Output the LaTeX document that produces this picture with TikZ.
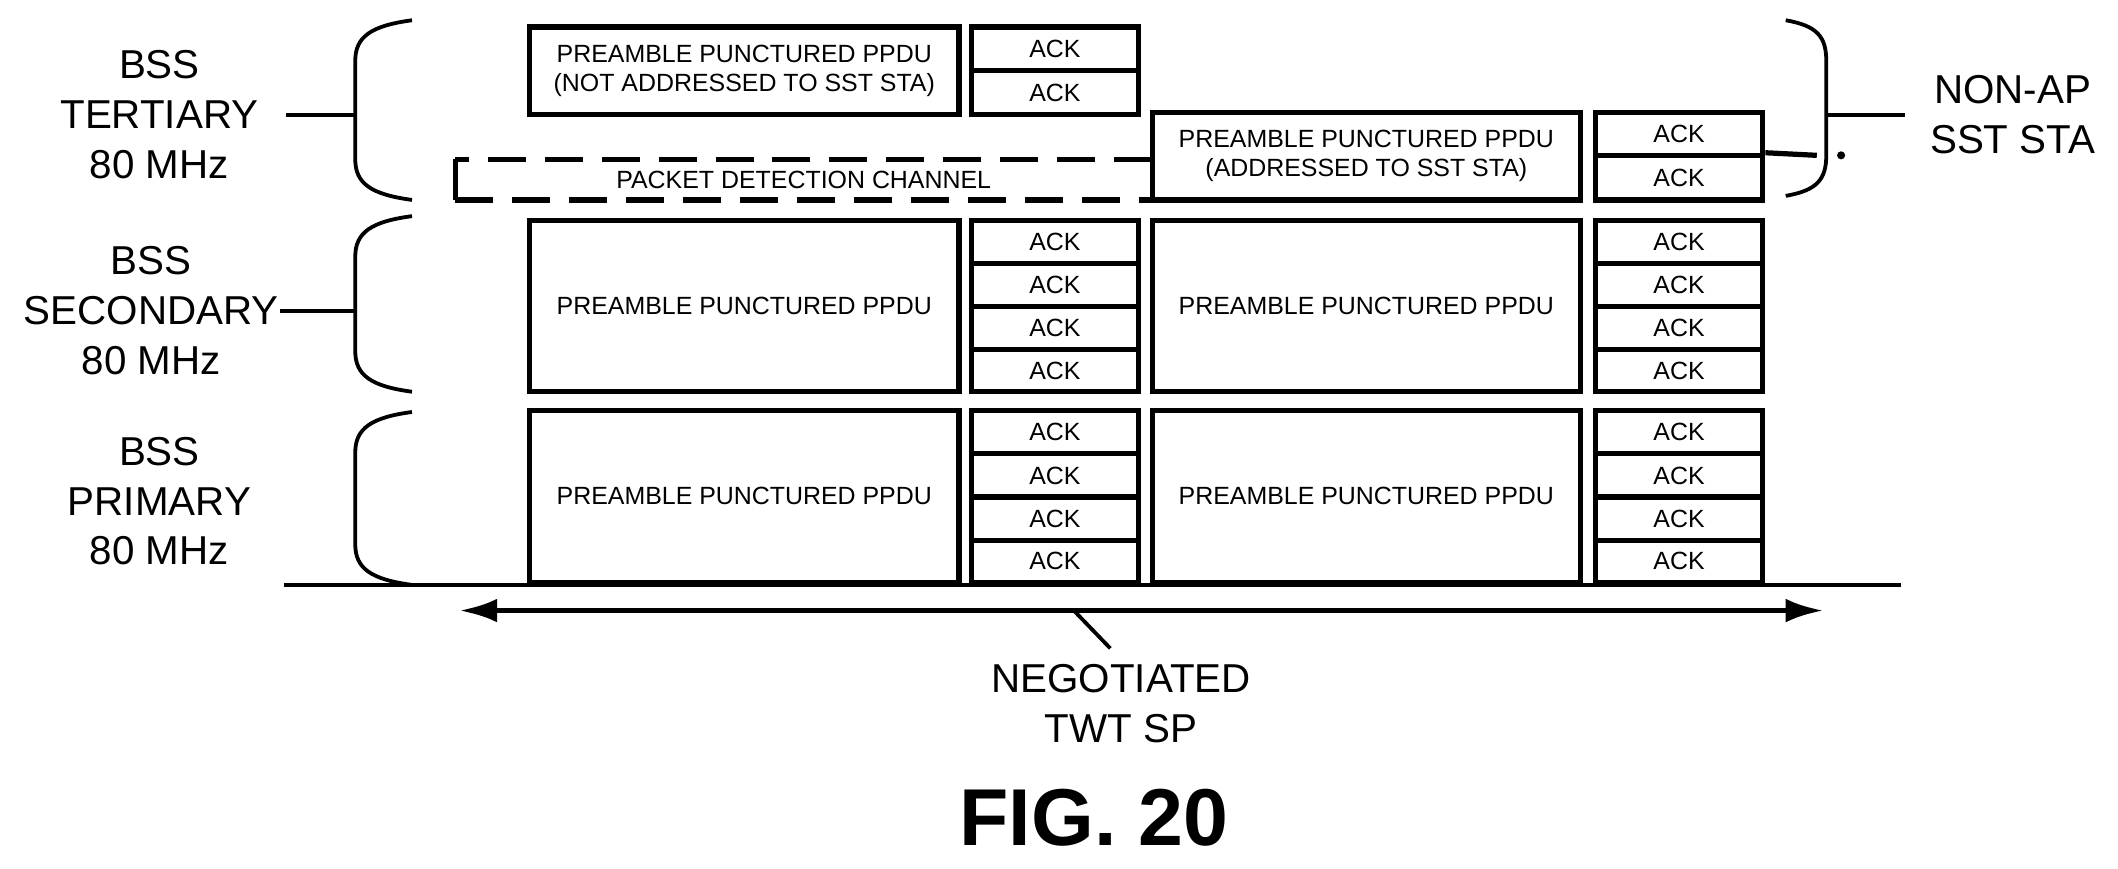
\documentclass[tikz,border=0pt]{standalone}
\usepackage{fontspec}
\setmainfont{Liberation Sans}
\usetikzlibrary{arrows.meta}
\begin{document}
\begin{tikzpicture}[x=0.02cm,y=-0.02cm,
  box/.style={draw,line width=2.2pt,inner sep=0pt,font=\fontsize{10.5}{12.5}\selectfont,align=center},
  lab/.style={font=\fontsize{17}{21}\selectfont,align=center},
  ln/.style={line width=1.6pt},
  brace/.style={line width=1.6pt}]
\useasboundingbox (0,0) rectangle (1568,643);
\newcommand{\mybx}[6]{\node[box,minimum width={(#4-#2)*0.02cm},minimum height={(#5-#3)*0.02cm}] (#1) at ({(#2+#4)/2},{(#3+#5)/2}) {#6};}
% tertiary
\mybx{t1}{392}{20}{710}{85}{PREAMBLE PUNCTURED PPDU\\(NOT ADDRESSED TO SST STA)}
\mybx{ta1}{719}{20}{843}{52}{ACK}
\mybx{ta2}{719}{52}{843}{85}{ACK}
\mybx{t2}{853}{83}{1170}{148}{PREAMBLE PUNCTURED PPDU\\(ADDRESSED TO SST STA)}
\mybx{tb1}{1181}{83}{1305}{115}{ACK}
\mybx{tb2}{1181}{115}{1305}{148}{ACK}
% secondary
\mybx{s1}{392}{163}{710}{290}{PREAMBLE PUNCTURED PPDU}
\mybx{s2}{853}{163}{1170}{290}{PREAMBLE PUNCTURED PPDU}
\mybx{sa1}{719}{163}{843}{195}{ACK}
\mybx{sa2}{719}{195}{843}{227}{ACK}
\mybx{sa3}{719}{227}{843}{259}{ACK}
\mybx{sa4}{719}{259}{843}{290}{ACK}
\mybx{sb1}{1181}{163}{1305}{195}{ACK}
\mybx{sb2}{1181}{195}{1305}{227}{ACK}
\mybx{sb3}{1181}{227}{1305}{259}{ACK}
\mybx{sb4}{1181}{259}{1305}{290}{ACK}
% primary
\mybx{p1}{392}{304}{710}{431}{PREAMBLE PUNCTURED PPDU}
\mybx{p2}{853}{304}{1170}{431}{PREAMBLE PUNCTURED PPDU}
\mybx{pa1}{719}{304}{843}{336}{ACK}
\mybx{pa2}{719}{336}{843}{368}{ACK}
\mybx{pa3}{719}{368}{843}{400}{ACK}
\mybx{pa4}{719}{400}{843}{431}{ACK}
\mybx{pb1}{1181}{304}{1305}{336}{ACK}
\mybx{pb2}{1181}{336}{1305}{368}{ACK}
\mybx{pb3}{1181}{368}{1305}{400}{ACK}
\mybx{pb4}{1181}{400}{1305}{431}{ACK}
% packet detection channel
\coordinate (pd1) at (853,118);
\coordinate (pd2) at (337,118);
\coordinate (pd3) at (337,148);
\coordinate (pd4) at (853,148);
\draw[line width=2.2pt,dash pattern=on 16pt off 8pt] (pd1) -- (pd2);
\draw[line width=2.2pt] (pd2) -- (pd3);
\draw[line width=2.2pt,dash pattern=on 16pt off 8pt] (pd3) -- (pd4);
\node[font=\fontsize{10.5}{12.5}\selectfont] (pdl) at (595,133) {PACKET DETECTION CHANNEL};
\coordinate (dd1) at (1345,115);
\draw[line width=2.2pt] (tb2.north east) -- (dd1);
\fill (1363,115) circle (3);
% baseline and arrow
\coordinate (b1) at (210,433); \coordinate (b2) at (1407,433);
\draw[ln] (b1) -- (b2);
\coordinate (a1) at (340,452); \coordinate (a2) at (1350,452);
\draw[line width=2.4pt,{Latex[length=16pt,width=10pt]}-{Latex[length=16pt,width=10pt]}] (a1) -- (a2);
\node[lab] (tw) at (830,521) {NEGOTIATED\\TWT SP};
\coordinate (am) at (795,452);
\draw[ln] (am) -- (822,480);
\node[font=\bfseries\fontsize{34}{40}\selectfont] (fig) at (810,605) {FIG. 20};
% left labels
\node[lab] (lt) at (118,85) {BSS\\TERTIARY\\80 MHz};
\node[lab] (ls) at (112,230) {BSS\\SECONDARY\\80 MHz};
\node[lab] (lp) at (118,371) {BSS\\PRIMARY\\80 MHz};
\newcommand{\mybrace}[2]{\draw[brace] (305,#1) .. controls (275,#1+4) and (263,#1+12) .. (263,#1+30) -- (263,#2-30) .. controls (263,#2-12) and (275,#2-4) .. (305,#2);}
\mybrace{15}{148}
\mybrace{160}{290}
\mybrace{305}{433}
\coordinate (bt) at (263,85); \coordinate (bs) at (263,230);
\draw[ln] (212,85) -- (bt);
\draw[ln] (207,230) -- (bs);
% right brace
\draw[brace] (1322,15) .. controls (1345,19) and (1352,27) .. (1352,45) -- (1352,115) .. controls (1352,133) and (1345,141) .. (1322,145);
\node[lab] (rt) at (1490,85) {NON-AP\\SST STA};
\coordinate (br) at (1352,85);
\draw[ln] (br) -- (1410,85);
\end{tikzpicture}
\end{document}
